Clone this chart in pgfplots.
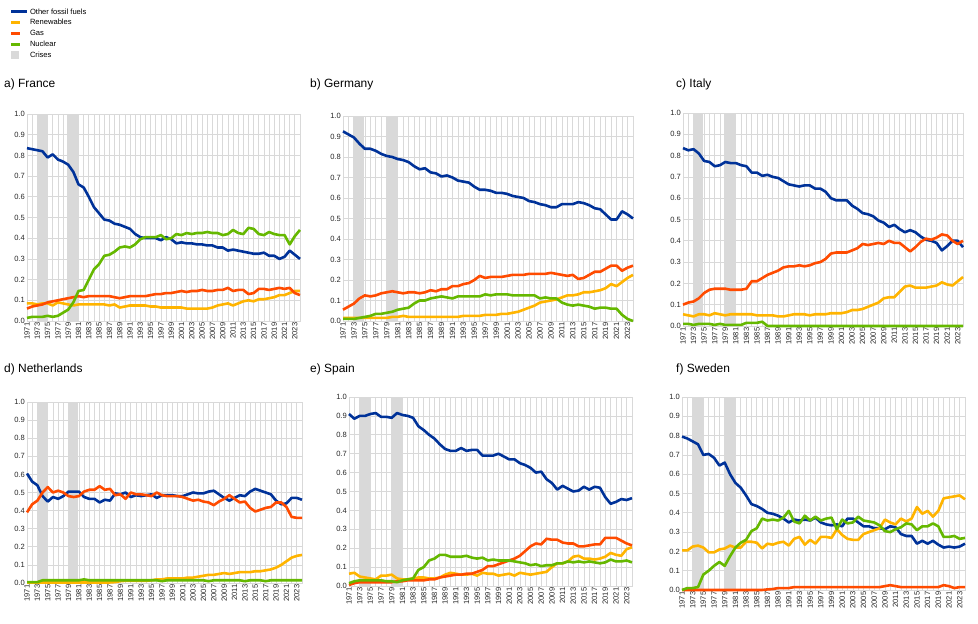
\documentclass[border=0pt]{standalone}
\usepackage{fontspec}
\setmainfont{Liberation Sans}
\usepackage{pgfplots}
\usepackage{pgfplotstable}
\pgfplotsset{compat=1.18}
\definecolor{ecbblue}{RGB}{0,50,153}
\definecolor{ecbyellow}{RGB}{255,180,0}
\definecolor{ecborange}{RGB}{255,75,0}
\definecolor{ecbgreen}{RGB}{101,184,0}
\definecolor{crisis}{RGB}{217,217,217}
\definecolor{gridc}{RGB}{217,217,217}

\pgfplotstableread{
year fos ren gas nuc
1971 .835 .085 .06 .015
1972 .83 .085 .07 .02
1973 .825 .08 .075 .02
1974 .82 .085 .08 .02
1975 .79 .085 .09 .025
1976 .805 .075 .095 .02
1977 .78 .09 .10 .025
1978 .77 .085 .105 .04
1979 .755 .08 .11 .055
1980 .72 .075 .115 .09
1981 .66 .08 .12 .145
1982 .645 .08 .115 .15
1983 .60 .08 .12 .20
1984 .55 .08 .12 .25
1985 .52 .08 .12 .275
1986 .49 .08 .12 .315
1987 .485 .075 .12 .32
1988 .47 .08 .115 .335
1989 .465 .065 .11 .355
1990 .455 .07 .115 .36
1991 .445 .075 .12 .355
1992 .42 .075 .12 .37
1993 .405 .075 .12 .395
1994 .40 .075 .12 .405
1995 .40 .07 .125 .405
1996 .40 .07 .13 .405
1997 .39 .065 .13 .415
1998 .405 .065 .135 .395
1999 .395 .065 .135 .40
2000 .375 .065 .14 .42
2001 .38 .065 .145 .415
2002 .375 .06 .14 .425
2003 .375 .06 .145 .42
2004 .37 .06 .145 .425
2005 .37 .06 .15 .425
2006 .365 .06 .145 .43
2007 .365 .065 .145 .425
2008 .355 .075 .15 .425
2009 .355 .08 .15 .415
2010 .34 .085 .16 .42
2011 .345 .075 .145 .44
2012 .34 .085 .15 .425
2013 .335 .095 .15 .42
2014 .33 .10 .13 .45
2015 .325 .095 .135 .445
2016 .325 .105 .155 .42
2017 .33 .105 .155 .415
2018 .315 .11 .15 .43
2019 .315 .115 .155 .42
2020 .30 .125 .16 .415
2021 .31 .125 .155 .415
2022 .34 .135 .16 .37
2023 .32 .145 .135 .41
2024 .30 .145 .125 .44
}\France

\pgfplotstableread{
year fos ren gas nuc
1971 .925 .015 .055 .01
1972 .91 .015 .07 .01
1973 .895 .015 .085 .01
1974 .865 .015 .11 .015
1975 .84 .015 .125 .02
1976 .84 .015 .12 .025
1977 .83 .015 .125 .035
1978 .815 .015 .135 .035
1979 .805 .015 .14 .04
1980 .80 .02 .145 .045
1981 .79 .02 .14 .055
1982 .785 .025 .135 .06
1983 .775 .02 .14 .065
1984 .755 .02 .14 .085
1985 .74 .02 .135 .10
1986 .745 .02 .14 .10
1987 .725 .02 .15 .11
1988 .72 .02 .145 .115
1989 .705 .02 .155 .12
1990 .71 .02 .155 .115
1991 .70 .02 .17 .11
1992 .685 .02 .17 .12
1993 .68 .025 .18 .12
1994 .675 .025 .185 .12
1995 .655 .025 .20 .12
1996 .64 .025 .22 .12
1997 .64 .03 .21 .13
1998 .635 .03 .215 .125
1999 .625 .03 .215 .13
2000 .625 .035 .215 .13
2001 .62 .035 .22 .13
2002 .61 .04 .225 .125
2003 .605 .045 .225 .125
2004 .60 .055 .225 .125
2005 .585 .065 .23 .125
2006 .58 .075 .23 .125
2007 .57 .09 .23 .11
2008 .565 .095 .23 .115
2009 .555 .10 .235 .11
2010 .555 .105 .23 .11
2011 .57 .115 .225 .09
2012 .57 .125 .22 .08
2013 .57 .125 .225 .075
2014 .58 .13 .205 .08
2015 .575 .14 .21 .075
2016 .565 .14 .225 .07
2017 .55 .145 .24 .06
2018 .545 .15 .24 .065
2019 .52 .16 .255 .065
2020 .495 .18 .27 .06
2021 .495 .17 .27 .06
2022 .535 .19 .245 .03
2023 .52 .21 .26 .01
2024 .50 .225 .27 .00
}\Germany

\pgfplotstableread{
year fos ren gas nuc
1971 .835 .055 .10 .01
1972 .825 .05 .11 .01
1973 .83 .045 .115 .005
1974 .81 .055 .13 .01
1975 .775 .055 .155 .01
1976 .77 .05 .17 .01
1977 .75 .06 .175 .005
1978 .755 .055 .175 .01
1979 .77 .05 .175 .005
1980 .765 .055 .17 .005
1981 .765 .055 .17 .005
1982 .755 .055 .17 .005
1983 .75 .055 .175 .015
1984 .72 .055 .21 .015
1985 .72 .05 .21 .015
1986 .705 .05 .225 .02
1987 .71 .05 .24 .0
1988 .70 .05 .25 .0
1989 .695 .045 .26 .0
1990 .68 .045 .275 .0
1991 .665 .05 .28 .0
1992 .66 .055 .28 .0
1993 .655 .055 .285 .0
1994 .66 .055 .28 .0
1995 .66 .05 .285 .0
1996 .645 .055 .295 .0
1997 .645 .055 .30 .0
1998 .63 .055 .315 .0
1999 .60 .06 .34 .0
2000 .59 .06 .345 .0
2001 .59 .06 .345 .0
2002 .59 .065 .345 .0
2003 .565 .075 .355 .0
2004 .55 .075 .365 .0
2005 .53 .08 .385 .0
2006 .525 .09 .38 .0
2007 .515 .10 .385 .0
2008 .495 .11 .39 .0
2009 .485 .13 .385 .0
2010 .465 .135 .40 .0
2011 .475 .135 .39 .0
2012 .455 .16 .39 .0
2013 .44 .185 .37 .0
2014 .45 .19 .35 .0
2015 .44 .18 .37 .0
2016 .42 .18 .395 .0
2017 .405 .18 .41 .0
2018 .40 .185 .405 .0
2019 .39 .19 .415 .0
2020 .355 .205 .43 .0
2021 .375 .195 .425 .0
2022 .40 .19 .40 .0
2023 .40 .21 .385 .0
2024 .37 .23 .40 .0
}\Italy

\pgfplotstableread{
year fos ren gas nuc
1971 .605 .003 .39 .005
1972 .56 .003 .435 .005
1973 .54 .003 .455 .005
1974 .48 .003 .50 .015
1975 .45 .003 .53 .015
1976 .475 .003 .50 .015
1977 .465 .003 .51 .015
1978 .48 .003 .50 .015
1979 .505 .003 .48 .015
1980 .505 .003 .475 .015
1981 .505 .003 .48 .015
1982 .475 .003 .505 .02
1983 .465 .003 .515 .015
1984 .465 .003 .515 .015
1985 .445 .003 .535 .015
1986 .46 .003 .515 .015
1987 .455 .003 .52 .015
1988 .495 .005 .485 .015
1989 .49 .01 .49 .015
1990 .50 .012 .465 .015
1991 .475 .012 .50 .015
1992 .485 .012 .49 .015
1993 .48 .012 .49 .015
1994 .485 .012 .485 .015
1995 .49 .015 .48 .015
1996 .47 .02 .50 .015
1997 .485 .02 .485 .01
1998 .485 .025 .48 .015
1999 .485 .025 .48 .015
2000 .48 .025 .48 .015
2001 .48 .025 .475 .015
2002 .49 .03 .465 .015
2003 .50 .03 .455 .015
2004 .495 .035 .46 .015
2005 .495 .04 .45 .015
2006 .505 .045 .445 .01
2007 .51 .045 .43 .015
2008 .49 .05 .45 .015
2009 .47 .055 .465 .015
2010 .455 .05 .485 .015
2011 .47 .055 .465 .015
2012 .485 .06 .445 .015
2013 .48 .06 .45 .01
2014 .505 .06 .415 .015
2015 .52 .065 .395 .015
2016 .51 .065 .405 .015
2017 .50 .07 .415 .01
2018 .49 .075 .42 .015
2019 .455 .085 .445 .015
2020 .435 .10 .445 .015
2021 .44 .12 .42 .015
2022 .47 .14 .365 .015
2023 .47 .15 .36 .015
2024 .46 .155 .36 .015
}\Netherlands

\pgfplotstableread{
year fos ren gas nuc
1971 .91 .065 .005 .015
1972 .885 .07 .015 .025
1973 .90 .05 .02 .03
1974 .90 .045 .02 .03
1975 .91 .04 .02 .03
1976 .915 .035 .02 .03
1977 .895 .055 .02 .03
1978 .895 .055 .02 .025
1979 .89 .06 .02 .025
1980 .915 .04 .025 .02
1981 .905 .035 .025 .03
1982 .90 .035 .03 .035
1983 .89 .04 .03 .04
1984 .845 .045 .03 .085
1985 .825 .045 .03 .10
1986 .80 .04 .035 .135
1987 .78 .04 .035 .145
1988 .75 .045 .045 .165
1989 .725 .06 .05 .165
1990 .715 .07 .055 .155
1991 .715 .065 .06 .155
1992 .73 .06 .06 .155
1993 .715 .06 .065 .16
1994 .72 .065 .065 .15
1995 .72 .055 .075 .145
1996 .69 .07 .085 .15
1997 .69 .065 .105 .135
1998 .69 .065 .105 .14
1999 .70 .055 .115 .135
2000 .685 .06 .125 .135
2001 .67 .065 .135 .135
2002 .67 .055 .145 .13
2003 .65 .07 .16 .125
2004 .64 .065 .185 .12
2005 .625 .06 .21 .11
2006 .60 .065 .225 .115
2007 .605 .07 .22 .105
2008 .565 .075 .25 .11
2009 .545 .10 .245 .11
2010 .51 .12 .245 .12
2011 .53 .12 .23 .12
2012 .515 .13 .225 .13
2013 .50 .155 .225 .125
2014 .505 .16 .21 .13
2015 .525 .145 .21 .125
2016 .51 .145 .215 .13
2017 .525 .14 .22 .125
2018 .52 .145 .22 .12
2019 .47 .155 .255 .125
2020 .435 .175 .255 .14
2021 .445 .165 .255 .13
2022 .46 .16 .24 .13
2023 .455 .195 .225 .135
2024 .465 .205 .215 .125
}\Spain

\pgfplotstableread{
year fos ren gas nuc
1971 .795 .205 .0 .0
1972 .785 .205 .0 .01
1973 .77 .225 .0 .01
1974 .755 .23 .0 .015
1975 .70 .22 .0 .08
1976 .705 .195 .0 .10
1977 .685 .195 .0 .125
1978 .645 .21 .0 .145
1979 .66 .215 .0 .125
1980 .60 .23 .0 .175
1981 .555 .22 .0 .22
1982 .53 .22 .0 .245
1983 .49 .25 .0 .26
1984 .445 .25 .0 .305
1985 .435 .245 .0 .32
1986 .42 .215 .0 .37
1987 .40 .24 .003 .36
1988 .395 .235 .005 .365
1989 .385 .245 .01 .36
1990 .37 .25 .01 .375
1991 .35 .23 .01 .41
1992 .365 .265 .015 .355
1993 .36 .275 .015 .345
1994 .365 .235 .015 .385
1995 .36 .26 .015 .36
1996 .375 .24 .015 .38
1997 .35 .275 .015 .36
1998 .34 .275 .015 .37
1999 .335 .27 .015 .375
2000 .34 .315 .015 .315
2001 .33 .285 .015 .365
2002 .37 .265 .015 .345
2003 .37 .26 .015 .35
2004 .35 .26 .015 .38
2005 .33 .29 .015 .36
2006 .33 .30 .015 .355
2007 .32 .31 .015 .35
2008 .32 .32 .015 .335
2009 .315 .365 .02 .305
2010 .33 .35 .025 .30
2011 .325 .34 .02 .315
2012 .29 .37 .015 .325
2013 .28 .355 .015 .345
2014 .28 .37 .015 .34
2015 .24 .43 .015 .31
2016 .255 .395 .015 .33
2017 .24 .41 .015 .33
2018 .255 .38 .015 .345
2019 .235 .41 .015 .33
2020 .22 .475 .025 .275
2021 .225 .48 .02 .275
2022 .22 .485 .01 .28
2023 .225 .49 .015 .265
2024 .24 .47 .015 .27
}\Sweden

\pgfplotsset{
  panel/.style={
    scale only axis, anchor=south west,
    xmin=1971, xmax=2024, ymin=0, ymax=1,
    xtick={1971,1973,...,2023}, minor xtick={1972,1974,...,2024},
    ytick={0,0.1,0.2,0.3,0.4,0.5,0.6,0.7,0.8,0.9,1},
    /pgf/number format/assume math mode=true,
    tick label style={font=\fontsize{7.6}{8}\selectfont, text=black!85},
    x tick label style={rotate=90, anchor=east, inner sep=1.5bp, /pgf/number format/1000 sep={}},
    y tick label style={inner sep=2bp, /pgf/number format/.cd, fixed, fixed zerofill, precision=1},
    grid=both,
    major grid style={draw=gridc, line width=0.7bp},
    minor grid style={draw=gridc, line width=0.7bp},
    major tick length=0pt, minor tick length=0pt,
    axis line style={draw=gridc, line width=0.7bp},
    clip=false,
  },
  band/.style={fill=crisis, draw=none, forget plot},
  fos/.style={ecbblue, line width=2.6bp, line join=round, forget plot},
  ren/.style={ecbyellow, line width=2.6bp, line join=round, forget plot},
  gas/.style={ecborange, line width=2.6bp, line join=round, forget plot},
  nuc/.style={ecbgreen, line width=2.6bp, line join=round, forget plot},
}

\newcommand{\panelplots}[1]{%
  \addplot[band] coordinates {(1972.85,0) (1972.85,1) (1974.85,1) (1974.85,0)} --cycle;
  \addplot[band] coordinates {(1978.85,0) (1978.85,1) (1980.85,1) (1980.85,0)} --cycle;
  \addplot[fos] table[x=year,y=fos]{#1};
  \addplot[ren] table[x=year,y=ren]{#1};
  \addplot[gas] table[x=year,y=gas]{#1};
  \addplot[nuc] table[x=year,y=nuc]{#1};
}

\begin{document}
\begin{tikzpicture}
\path[use as bounding box] (0bp,0bp) rectangle (978bp,624bp);

\begin{axis}[panel, at={(27bp,303bp)}, width=273bp, height=207bp,
  legend style={at={(axis description cs:-0.075,1.53)}, anchor=north west,
    draw=none, fill=none, font=\fontsize{7.6}{8}\selectfont,
    nodes={inner sep=1.3bp, text height=6.4bp, text depth=1.8bp},
    row sep=0pt},
  legend cell align=left]
\panelplots{\France}
\addlegendimage{legend image code/.code={\draw[ecbblue, line width=3bp] (0bp,0bp) -- (16bp,0bp);}}
\addlegendentry{Other fossil fuels}
\addlegendimage{legend image code/.code={\draw[ecbyellow, line width=3bp] (0bp,0bp) -- (9bp,0bp);}}
\addlegendentry{Renewables}
\addlegendimage{legend image code/.code={\draw[ecborange, line width=3bp] (0bp,0bp) -- (9bp,0bp);}}
\addlegendentry{Gas}
\addlegendimage{legend image code/.code={\draw[ecbgreen, line width=3bp] (0bp,0bp) -- (9bp,0bp);}}
\addlegendentry{Nuclear}
\addlegendimage{legend image code/.code={\fill[crisis] (0bp,-3.4bp) rectangle (6.8bp,3.4bp);}}
\addlegendentry{Crises}
\end{axis}

\begin{axis}[panel, at={(343bp,303bp)}, width=290bp, height=205bp]
\panelplots{\Germany}
\end{axis}

\begin{axis}[panel, at={(683bp,298bp)}, width=280bp, height=213bp]
\panelplots{\Italy}
\end{axis}

\begin{axis}[panel, at={(27bp,41bp)}, width=275bp, height=181bp]
\panelplots{\Netherlands}
\end{axis}

\begin{axis}[panel, at={(349bp,38bp)}, width=283bp, height=189bp]
\panelplots{\Spain}
\end{axis}

\begin{axis}[panel, at={(682bp,34bp)}, width=283bp, height=193bp]
\panelplots{\Sweden}
\end{axis}

\begin{scope}[every node/.style={anchor=base west, inner sep=0pt, font=\fontsize{12}{14}\selectfont}]
\node at (4bp,536bp) {a) France};
\node at (310bp,536bp) {b) Germany};
\node at (676bp,536bp) {c) Italy};
\node at (4bp,251bp) {d) Netherlands};
\node at (310bp,251bp) {e) Spain};
\node at (676bp,251bp) {f) Sweden};
\end{scope}
\end{tikzpicture}
\end{document}
